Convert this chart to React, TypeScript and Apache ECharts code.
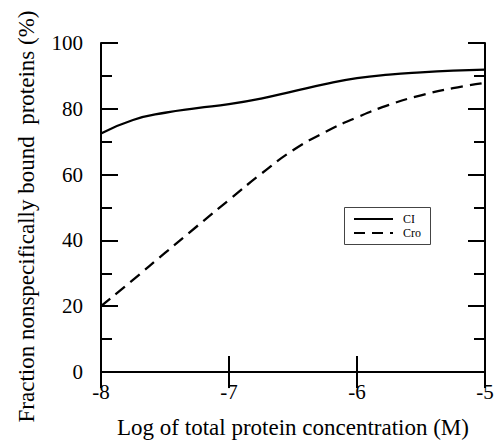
import React, { useEffect, useRef } from "react";
import * as echarts from "echarts";

const logConc = [-8, -7.75, -7.5, -7.25, -7, -6.75, -6.5, -6.25, -6, -5.75, -5.5, -5.25, -5];
const ciValues = [72.5, 76.6, 78.8, 80.2, 81.4, 83.1, 85.3, 87.5, 89.3, 90.4, 91.1, 91.6, 91.9];
const croValues = [20.0, 28.0, 36.2, 44.3, 52.3, 60.2, 67.4, 72.9, 77.4, 81.2, 84.1, 86.3, 87.9];
const seriesNames = ["CI", "Cro"];
const xTitle = "Log of total protein concentration (M)";
const yTitle = "Fraction nonspecifically bound  proteins (%)";

const FONT = "'Liberation Serif', 'DejaVu Serif', serif";

export default function App() {
  const ref = useRef<HTMLDivElement>(null);
  useEffect(() => {
    if (!ref.current) return;
    const chart = echarts.init(ref.current, null, { renderer: "svg" });
    const tickCommon = { inside: true, lineStyle: { color: "#000", width: 2 } };
    chart.setOption({
      animation: false,
      backgroundColor: "#fff",
      grid: { left: 101, top: 43, right: 12, bottom: 76, containLabel: false },
      xAxis: [
        {
          type: "value",
          min: -8,
          max: -5,
          interval: 1,
          position: "bottom",
          name: xTitle,
          nameLocation: "middle",
          nameGap: 44,
          nameTextStyle: { fontFamily: FONT, fontSize: 23, color: "#000" },
          axisLine: { show: true, lineStyle: { color: "#000", width: 2 } },
          axisTick: { ...tickCommon, length: 16 },
          axisLabel: { fontFamily: FONT, fontSize: 21, color: "#000", margin: 9 },
          splitLine: { show: false },
        },
        {
          type: "value",
          min: -8,
          max: -5,
          interval: 1,
          position: "top",
          axisLine: { show: true, lineStyle: { color: "#000", width: 2 } },
          axisTick: { ...tickCommon, length: 16 },
          axisLabel: { show: false },
          splitLine: { show: false },
        },
      ],
      yAxis: [
        {
          type: "value",
          min: 0,
          max: 100,
          interval: 20,
          position: "left",
          name: yTitle,
          nameLocation: "middle",
          nameRotate: 90,
          nameGap: 63,
          nameTextStyle: { fontFamily: FONT, fontSize: 23, color: "#000", padding: [0, 18, 0, 0] },
          axisLine: { show: true, lineStyle: { color: "#000", width: 2 } },
          axisTick: { ...tickCommon, length: 17 },
          minorTick: { show: true, splitNumber: 2, length: 11, lineStyle: { color: "#000", width: 2 } },
          axisLabel: { fontFamily: FONT, fontSize: 21, color: "#000", margin: 18 },
          splitLine: { show: false },
          minorSplitLine: { show: false },
        },
        {
          type: "value",
          min: 0,
          max: 100,
          interval: 20,
          position: "right",
          axisLine: { show: true, lineStyle: { color: "#000", width: 2 } },
          axisTick: { ...tickCommon, length: 17 },
          minorTick: { show: true, splitNumber: 2, length: 11, lineStyle: { color: "#000", width: 2 } },
          axisLabel: { show: false },
          splitLine: { show: false },
          minorSplitLine: { show: false },
        },
      ],
      series: [
        {
          name: seriesNames[0],
          type: "line",
          data: logConc.map((x, i) => [x, ciValues[i]]),
          smooth: 0.5,
          showSymbol: false,
          symbol: "none",
          lineStyle: { color: "#000", width: 2.3, type: "solid" },
        },
        {
          name: seriesNames[1],
          type: "line",
          data: logConc.map((x, i) => [x, croValues[i]]),
          smooth: 0.5,
          showSymbol: false,
          symbol: "none",
          lineStyle: { color: "#000", width: 2.3, type: [12, 7] },
        },
      ],
      graphic: [
        {
          type: "rect",
          shape: { x: 344.5, y: 207.5, width: 86, height: 37 },
          style: { fill: "#fff", stroke: "#444", lineWidth: 1 },
        },
        {
          type: "line",
          shape: { x1: 354, y1: 219, x2: 393, y2: 219 },
          style: { stroke: "#000", lineWidth: 2.2 },
        },
        {
          type: "line",
          shape: { x1: 354, y1: 233, x2: 393, y2: 233 },
          style: { stroke: "#000", lineWidth: 2.2, lineDash: [11, 7] },
        },
        {
          type: "text",
          x: 403,
          y: 219,
          style: { text: seriesNames[0], fontFamily: FONT, fontSize: 12, fill: "#000", verticalAlign: "middle" },
        },
        {
          type: "text",
          x: 403,
          y: 233,
          style: { text: seriesNames[1], fontFamily: FONT, fontSize: 12, fill: "#000", verticalAlign: "middle" },
        },
      ],
    });
    return () => chart.dispose();
  }, []);
  return (
    <div
      ref={ref}
      style={{ position: "fixed", left: 0, top: 0, width: 497, height: 448 }}
    />
  );
}
